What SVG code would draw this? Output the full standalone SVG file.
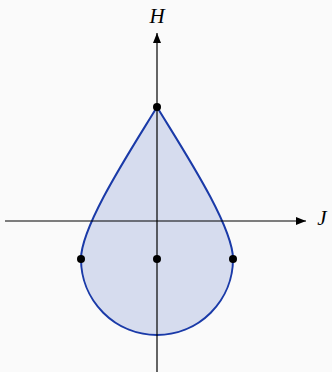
<svg xmlns="http://www.w3.org/2000/svg" width="332" height="372" viewBox="0 0 332 372">
<style>
.axis{stroke:#000;stroke-width:1.2;fill:none}
.lbl{font-family:"Liberation Serif","DejaVu Serif",serif;font-style:italic;font-size:21px;fill:#000}
.dot{fill:#000}
</style>
<defs>
<marker id="arr" viewBox="0 0 10 8" refX="10" refY="4" markerWidth="10" markerHeight="8" markerUnits="userSpaceOnUse" orient="auto">
<path d="M0,0 L10,4 L0,8 Z" fill="#000"/>
</marker>
</defs>
<rect width="332" height="372" fill="#fafafa"/>
<g id="shape">
<path d="M157,107 C180,145 233,225 233,259 A76,76 0 0 1 81,259 C81,225 134,145 157,107 Z" fill="#d6dcee" stroke="#1a3aa8" stroke-width="2"/>
</g>
<g id="connectors">
<line class="axis" x1="5" y1="221" x2="306" y2="221" marker-end="url(#arr)"/>
<line class="axis" x1="157" y1="372" x2="157" y2="33" marker-end="url(#arr)"/>
</g>
<g id="points">
<circle class="dot" cx="157" cy="107" r="4"/>
<circle class="dot" cx="81" cy="259" r="4"/>
<circle class="dot" cx="157" cy="259" r="4"/>
<circle class="dot" cx="233" cy="259" r="4"/>
</g>
<g id="labels">
<text class="lbl" x="157" y="23" text-anchor="middle">H</text>
<text class="lbl" x="322" y="225" text-anchor="middle">J</text>
</g>
</svg>
